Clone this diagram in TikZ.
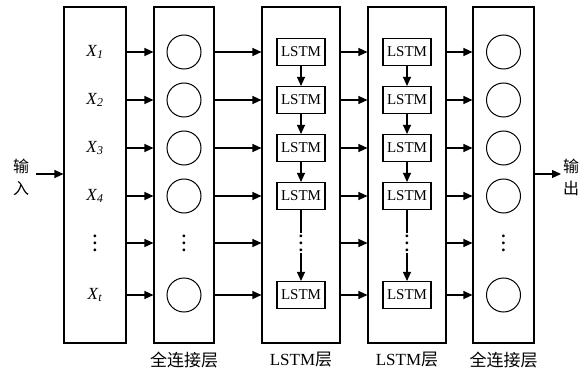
\documentclass[tikz,border=0pt]{standalone}
\usepackage{fontspec}
\setmainfont{Liberation Serif}
\newfontfamily\cjk{Noto Sans CJK SC}
\usetikzlibrary{arrows.meta, positioning}

\newcommand{\bigvdots}{\vbox{\baselineskip7pt\lineskiplimit0pt
  \hbox{\textbf{.}}\hbox{\textbf{.}}\hbox{\textbf{.}}}}

\tikzset{
  layer/.style={draw, line width=1.1pt, minimum width=#1, minimum height=336pt, inner sep=0pt},
  neuron/.style={draw, circle, line width=1pt, minimum size=34pt, inner sep=0pt},
  lstmcell/.style={draw, line width=1.1pt, minimum width=48pt, minimum height=27pt,
    inner sep=0pt, font=\fontsize{15}{17}\selectfont},
  xlab/.style={font=\fontsize{17}{19}\selectfont},
  vdotsnode/.style={inner sep=1.5pt, font=\fontsize{17}{19}\selectfont},
  arr/.style={line width=1.1pt, -{Triangle[length=9pt,width=8pt]}},
  layername/.style={font=\fontsize{17}{19}\selectfont},
  sidelab/.style={align=center, font=\cjk\fontsize{16}{22}\selectfont}
}

\begin{document}
\begin{tikzpicture}[x=1pt,y=-1pt]
  \useasboundingbox (0,0) rectangle (586,374);
  % layers
  \node[layer=62pt] (inp) at (95,175) {};
  \node[layer=60pt] (fca) at (184,175) {};
  \node[layer=78pt] (lsa) at (301,175) {};
  \node[layer=78pt] (lsb) at (407,175) {};
  \node[layer=61pt] (fcb) at (503.5,175) {};
  % rows
  \foreach \r/\y in {1/52,2/100,3/148,4/196,5/243,6/295}
    \coordinate (r\r) at (0,\y);
  % inputs
  \foreach \r/\t in {1/1,2/2,3/3,4/4,6/t}
    \node[xlab] (x\r) at (inp |- r\r) {\textit{X}\textsubscript{\textit{\t}}};
  \node[vdotsnode] (xd) at (inp |- r5) {\bigvdots};
  % neurons of the dense layers
  \foreach \r in {1,2,3,4,6} {
    \node[neuron] (ca\r) at (fca |- r\r) {};
    \node[neuron] (cb\r) at (fcb |- r\r) {};
  }
  \node[vdotsnode] (cad) at (fca |- r5) {\bigvdots};
  \node[vdotsnode] (cbd) at (fcb |- r5) {\bigvdots};
  % lstm cells
  \foreach \r in {1,2,3,4,6} {
    \node[lstmcell] (la\r) at (lsa |- r\r) {LSTM};
    \node[lstmcell] (lb\r) at (lsb |- r\r) {LSTM};
  }
  \foreach \a/\b in {1/2,2/3,3/4,4/6} {
    \draw[arr] (la\a) -- (la\b);
    \draw[arr] (lb\a) -- (lb\b);
  }
  \node[vdotsnode, fill=white] (lad) at (lsa |- r5) {\bigvdots};
  \node[vdotsnode, fill=white] (lbd) at (lsb |- r5) {\bigvdots};
  % connections between layers
  \foreach \r in {1,...,6} {
    \draw[arr] (inp.east |- r\r) -- (fca.west |- r\r);
    \draw[arr] (fca.east |- r\r) -- (lsa.west |- r\r);
    \draw[arr] (lsa.east |- r\r) -- (lsb.west |- r\r);
    \draw[arr] (lsb.east |- r\r) -- (fcb.west |- r\r);
  }
  % input and output
  \coordinate (inl) at (36,174);
  \coordinate (outr) at (561,174);
  \draw[arr] (inl) -- (inp.west |- inl);
  \draw[arr] (fcb.east |- outr) -- (outr);
  \node[sidelab] (inlab) at (21,177) {输\\入};
  \node[sidelab] (outlab) at (571,177) {输\\出};
  % layer names
  \node[layername, below=5pt of fca] (na) {\cjk 全连接层};
  \node[layername, below=5pt of lsa] (nb) {LSTM\cjk 层};
  \node[layername, below=5pt of lsb] (nc) {LSTM\cjk 层};
  \node[layername, below=5pt of fcb] (nd) {\cjk 全连接层};
\end{tikzpicture}
\end{document}
